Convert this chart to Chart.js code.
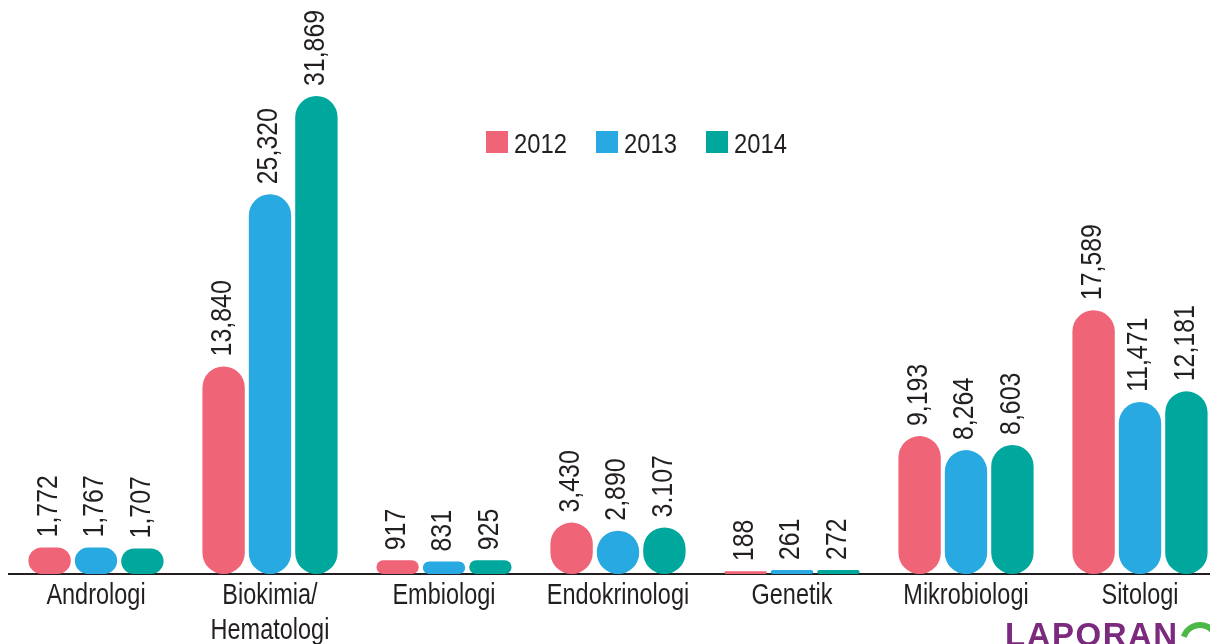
<!DOCTYPE html>
<html>
<head>
<meta charset="utf-8">
<script src="https://cdn.jsdelivr.net/npm/chart.js@4"></script>
<style>
  html, body { margin: 0; padding: 0; background: #fff; overflow: hidden; }
  #wrap { position: relative; width: 1210px; height: 644px; overflow: hidden; }
  canvas { position: absolute; left: 0; top: 0; }
</style>
</head>
<body>
<div id="wrap"><canvas id="chart" width="1227" height="644"></canvas></div>
<script>
const categories = ['Andrologi', ['Biokimia/', 'Hematologi'], 'Embiologi', 'Endokrinologi', 'Genetik', 'Mikrobiologi', 'Sitologi'];
const years = ['2012', '2013', '2014'];
const values2012 = [1772, 13840, 917, 3430, 188, 9193, 17589];
const values2013 = [1767, 25320, 831, 2890, 261, 8264, 11471];
const values2014 = [1707, 31869, 925, 3107, 272, 8603, 12181];
const colors = ['#f06478', '#29a9e1', '#00a79c'];
// the source prints this one value with a dot
const labelOverrides = { '2-3': '3.107' };

const FONT = '"Liberation Sans", Arial, sans-serif';
const TEXT = '#231f20';

// no narrow font installed, so squeeze the text horizontally
function narrowText(ctx, txt, x, y, sx, angle) {
  ctx.save();
  ctx.translate(x, y);
  if (angle) ctx.rotate(angle);
  ctx.scale(sx, 1);
  ctx.fillText(txt, 0, 0);
  ctx.restore();
}

const valueLabels = {
  id: 'valueLabels',
  afterDatasetsDraw(chart) {
    const { ctx } = chart;
    ctx.save();
    ctx.font = '30px ' + FONT;
    ctx.fillStyle = TEXT;
    ctx.textAlign = 'left';
    ctx.textBaseline = 'middle';
    chart.data.datasets.forEach((ds, di) => {
      chart.getDatasetMeta(di).data.forEach((bar, i) => {
        const txt = labelOverrides[di + '-' + i] || ds.data[i].toLocaleString('en-US');
        narrowText(ctx, txt, bar.x - 1, bar.y - 10, 0.83, -Math.PI / 2);
      });
    });
    ctx.restore();
  }
};

// category names under the axis line
const categoryLabels = {
  id: 'categoryLabels',
  afterDraw(chart) {
    const { ctx } = chart;
    const xs = chart.scales.x;
    ctx.save();
    ctx.font = '29px ' + FONT;
    ctx.fillStyle = TEXT;
    ctx.textAlign = 'center';
    ctx.textBaseline = 'alphabetic';
    chart.data.labels.forEach((lab, i) => {
      const lines = Array.isArray(lab) ? lab : [lab];
      const x = xs.getPixelForValue(i);
      lines.forEach((ln, k) => narrowText(ctx, ln, x, chart.chartArea.bottom + 30 + k * 35, 0.81));
    });
    ctx.restore();
  }
};

const topLegend = {
  id: 'topLegend',
  afterDraw(chart) {
    const { ctx } = chart;
    ctx.save();
    ctx.font = '28px ' + FONT;
    ctx.textBaseline = 'alphabetic';
    let x = 486;
    const y = 142;
    chart.data.datasets.forEach(ds => {
      ctx.fillStyle = ds.backgroundColor;
      ctx.fillRect(x, y - 11, 22, 22);
      ctx.fillStyle = TEXT;
      narrowText(ctx, ds.label, x + 28, y + 11, 0.85);
      x += 110;
    });
    ctx.restore();
  }
};

// partial report logo in the corner
const logo = {
  id: 'logo',
  afterDraw(chart) {
    const { ctx } = chart;
    ctx.save();
    ctx.font = 'bold 33px ' + FONT;
    ctx.letterSpacing = '1.5px';
    ctx.fillStyle = '#7b2a7e';
    ctx.textBaseline = 'alphabetic';
    ctx.fillText('LAPORAN', 1005, 646);
    ctx.strokeStyle = '#4cb848';
    ctx.lineWidth = 6;
    ctx.beginPath();
    ctx.arc(1200, 642, 17, Math.PI * 1.1, Math.PI * 2.1);
    ctx.stroke();
    ctx.restore();
  }
};

new Chart(document.getElementById('chart'), {
  type: 'bar',
  data: {
    labels: categories,
    datasets: [values2012, values2013, values2014].map((d, i) => ({
      label: years[i],
      data: d,
      backgroundColor: colors[i],
      borderRadius: 100,
      borderSkipped: false,
      categoryPercentage: 0.8,
      barPercentage: 0.913
    }))
  },
  options: {
    responsive: false,
    animation: false,
    devicePixelRatio: 1,
    layout: { padding: { left: 9, right: 0, top: 0, bottom: 0 } },
    plugins: { legend: { display: false }, tooltip: { enabled: false } },
    scales: {
      x: {
        grid: { display: false },
        border: { display: true, color: TEXT, width: 2 },
        ticks: { display: false },
        afterFit(scale) { scale.height = 70; }
      },
      y: { display: false, min: 0, max: 38270 }
    }
  },
  plugins: [valueLabels, categoryLabels, topLegend, logo]
});
</script>
</body>
</html>
